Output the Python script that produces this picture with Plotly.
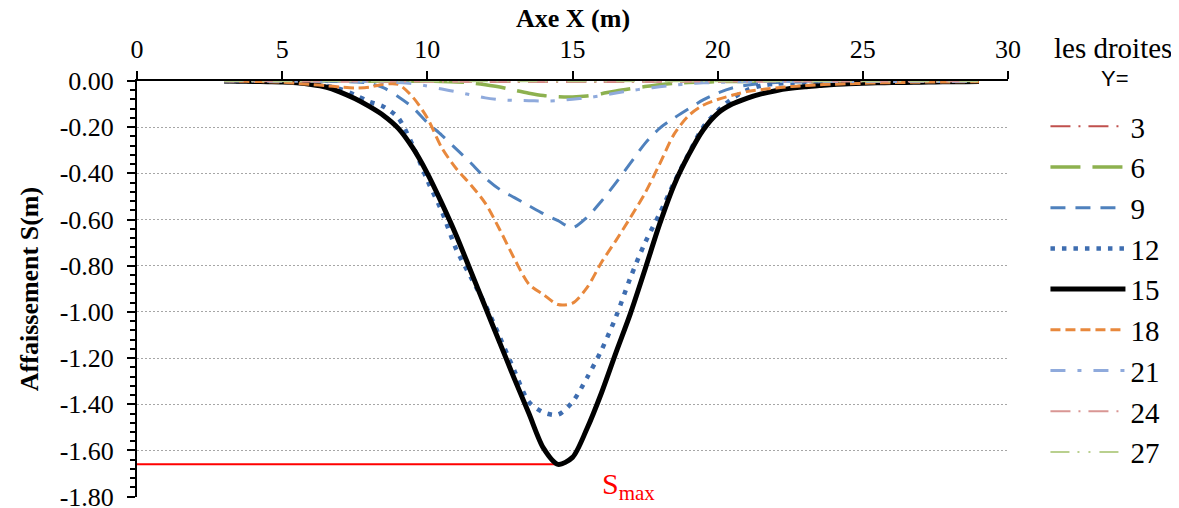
import plotly.graph_objects as go

# ---------------- data ----------------
x_m = [3.0, 3.5, 4.0, 4.5, 5.0,
       5.5, 6.0, 6.5, 7.0, 7.5,
       8.0, 8.5, 9.0, 9.5, 10.0,
       10.5, 11.0, 11.5, 12.0, 12.5,
       13.0, 13.5, 14.0, 14.5, 15.0,
       15.5, 16.0, 16.5, 17.0, 17.5,
       18.0, 18.5, 19.0, 19.5, 20.0,
       20.5, 21.0, 21.5, 22.0, 22.5,
       23.0, 23.5, 24.0, 24.5, 25.0,
       25.5, 26.0, 26.5, 27.0, 27.5,
       28.0, 28.5, 29.0]

s_y3 = [0.000, -0.001, -0.001, -0.001, -0.002,
        -0.002, -0.002, -0.002, -0.002, -0.002,
        -0.002, -0.003, -0.003, -0.003, -0.003,
        -0.003, -0.003, -0.003, -0.004, -0.004,
        -0.004, -0.004, -0.004, -0.004, -0.004,
        -0.004, -0.004, -0.004, -0.004, -0.003,
        -0.003, -0.003, -0.003, -0.003, -0.003,
        -0.003, -0.003, -0.002, -0.002, -0.002,
        -0.002, -0.002, -0.002, -0.002, -0.002,
        -0.002, -0.002, -0.002, -0.002, -0.002,
        -0.002, -0.002, -0.002]

s_y6 = [0.000, 0.000, 0.000, 0.000, -0.001,
        -0.001, -0.001, -0.001, -0.001, -0.001,
        -0.001, -0.001, -0.001, -0.001, -0.001,
        -0.002, -0.004, -0.008, -0.016, -0.026,
        -0.040, -0.053, -0.063, -0.068, -0.069,
        -0.065, -0.055, -0.043, -0.033, -0.024,
        -0.016, -0.010, -0.007, -0.005, -0.003,
        -0.002, -0.002, -0.001, -0.001, -0.001,
        -0.001, -0.001, -0.001, -0.001, -0.001,
        -0.001, -0.001, -0.001, -0.001, -0.001,
        -0.001, -0.001, -0.001]

s_y9 = [0.000, 0.000, -0.001, -0.001, -0.001,
        -0.001, -0.001, -0.002, -0.002, -0.004,
        -0.010, -0.030, -0.068, -0.115, -0.180,
        -0.235, -0.295, -0.355, -0.420, -0.470,
        -0.505, -0.540, -0.575, -0.605, -0.635,
        -0.590, -0.520, -0.440, -0.355, -0.270,
        -0.205, -0.160, -0.120, -0.082, -0.052,
        -0.030, -0.018, -0.010, -0.006, -0.005,
        -0.004, -0.004, -0.003, -0.003, -0.003,
        -0.003, -0.002, -0.002, -0.002, -0.002,
        -0.002, -0.002, -0.002]

s_y12 = [0.000, -0.001, -0.001, -0.002, -0.003,
         -0.005, -0.010, -0.020, -0.035, -0.060,
         -0.090, -0.112, -0.160, -0.280, -0.430,
         -0.565, -0.730, -0.850, -0.970, -1.110,
         -1.255, -1.390, -1.435, -1.445, -1.390,
         -1.285, -1.165, -1.020, -0.850, -0.700,
         -0.575, -0.440, -0.315, -0.200, -0.130,
         -0.076, -0.040, -0.020, -0.012, -0.008,
         -0.006, -0.005, -0.004, -0.004, -0.003,
         -0.003, -0.003, -0.002, -0.002, -0.002,
         -0.002, -0.002, -0.002]

s_y15 = [0.000, -0.001, -0.002, -0.003, -0.004,
         -0.008, -0.015, -0.026, -0.048, -0.076,
         -0.110, -0.150, -0.205, -0.290, -0.400,
         -0.530, -0.670, -0.825, -0.980, -1.135,
         -1.290, -1.440, -1.590, -1.660, -1.630,
         -1.505, -1.350, -1.175, -1.005, -0.815,
         -0.620, -0.450, -0.320, -0.212, -0.140,
         -0.100, -0.075, -0.056, -0.042, -0.032,
         -0.025, -0.020, -0.015, -0.012, -0.010,
         -0.008, -0.007, -0.006, -0.005, -0.004,
         -0.003, -0.003, -0.002]

s_y18 = [0.000, -0.001, -0.002, -0.003, -0.005,
         -0.010, -0.015, -0.020, -0.026, -0.030,
         -0.027, -0.014, -0.015, -0.070, -0.160,
         -0.290, -0.380, -0.450, -0.530, -0.645,
         -0.770, -0.880, -0.925, -0.968, -0.962,
         -0.895, -0.785, -0.690, -0.590, -0.485,
         -0.360, -0.230, -0.150, -0.105, -0.080,
         -0.062, -0.046, -0.037, -0.030, -0.024,
         -0.020, -0.016, -0.014, -0.012, -0.010,
         -0.008, -0.007, -0.006, -0.005, -0.004,
         -0.004, -0.003, -0.003]

s_y21 = [0.000, 0.000, 0.000, -0.001, -0.001,
         -0.001, -0.001, -0.001, -0.001, -0.001,
         -0.002, -0.004, -0.007, -0.012, -0.022,
         -0.035, -0.047, -0.060, -0.073, -0.081,
         -0.084, -0.085, -0.087, -0.085, -0.079,
         -0.073, -0.063, -0.052, -0.042, -0.033,
         -0.025, -0.018, -0.012, -0.008, -0.006,
         -0.004, -0.003, -0.002, -0.002, -0.002,
         -0.002, -0.002, -0.002, -0.002, -0.002,
         -0.002, -0.002, -0.002, -0.002, -0.002,
         -0.002, -0.002, -0.002]

s_y24 = [0.000, -0.001, -0.001, -0.001, -0.001,
         -0.002, -0.002, -0.002, -0.002, -0.002,
         -0.002, -0.002, -0.002, -0.002, -0.003,
         -0.003, -0.003, -0.003, -0.003, -0.003,
         -0.003, -0.003, -0.003, -0.003, -0.003,
         -0.003, -0.003, -0.003, -0.003, -0.003,
         -0.003, -0.003, -0.003, -0.002, -0.002,
         -0.002, -0.002, -0.002, -0.002, -0.002,
         -0.002, -0.002, -0.002, -0.002, -0.002,
         -0.002, -0.002, -0.002, -0.002, -0.002,
         -0.002, -0.002, -0.002]

s_y27 = [0.000, 0.000, -0.001, -0.001, -0.001,
         -0.001, -0.001, -0.001, -0.001, -0.001,
         -0.001, -0.001, -0.001, -0.001, -0.001,
         -0.001, -0.001, -0.001, -0.001, -0.001,
         -0.001, -0.001, -0.001, -0.001, -0.001,
         -0.001, -0.001, -0.001, -0.001, -0.001,
         -0.001, -0.001, -0.001, -0.001, -0.001,
         -0.001, -0.001, -0.001, -0.001, -0.001,
         -0.001, -0.001, -0.001, -0.001, -0.001,
         -0.001, -0.001, -0.001, -0.001, -0.001,
         -0.001, -0.001, -0.001]

series_names = ["3", "6", "9", "12", "15", "18", "21", "24", "27"]
series_values = [s_y3, s_y6, s_y9, s_y12, s_y15, s_y18, s_y21, s_y24, s_y27]

smax_x = [0.0, 14.7]
smax_y = [-1.66, -1.66]
smax_label_x = 15.95
smax_label_y = -1.755

x_tick_vals = [0, 5, 10, 15, 20, 25, 30]
x_tick_text = ["0", "5", "10", "15", "20", "25", "30"]
y_tick_vals = [0.0, -0.2, -0.4, -0.6, -0.8, -1.0, -1.2, -1.4, -1.6, -1.8]
y_tick_text = ["0.00", "-0.20", "-0.40", "-0.60", "-0.80", "-1.00",
               "-1.20", "-1.40", "-1.60", "-1.80"]

# ---------------- styles ----------------
styles = [
    dict(color="#C0504D", width=2.0, dash="20px,8px,2px,8px"),
    dict(color="#8DB14F", width=3.5, dash="30px,12px"),
    dict(color="#4F81BD", width=3.0, dash="15px,10px"),
    dict(color="#3E6DB0", width=4.5, dash="4.5px,7px"),
    dict(color="#000000", width=5.0, dash="solid"),
    dict(color="#E8883C", width=3.0, dash="10px,5px"),
    dict(color="#8FAADC", width=3.0, dash="15px,12px,4px,12px"),
    dict(color="#D99694", width=2.0, dash="20px,8px,2px,8px"),
    dict(color="#B9D08E", width=2.0, dash="19px,8px,2px,9px,2px,9px"),
]

FONT = "Liberation Serif"

fig = go.Figure()

fig.add_trace(go.Scatter(x=smax_x, y=smax_y, mode="lines",
                         line=dict(color="#FF0000", width=2),
                         showlegend=False, hoverinfo="skip"))

for name, vals, st in zip(series_names, series_values, styles):
    fig.add_trace(go.Scatter(x=x_m, y=vals, mode="lines", name=name,
                             line=dict(color=st["color"], width=st["width"],
                                       dash=st["dash"], shape="spline",
                                       smoothing=0.8)))

fig.add_annotation(x=smax_label_x, y=smax_label_y, xref="x", yref="y",
                   text="S<sub>max</sub>", showarrow=False,
                   xanchor="left", yanchor="middle",
                   font=dict(family=FONT, size=30, color="#FF0000"))

# x-axis title (placed above the top tick labels)
fig.add_annotation(x=0.5, y=1.1514, xref="paper", yref="paper",
                   text="<b>Axe X (m)</b>", showarrow=False,
                   xanchor="center", yanchor="middle",
                   font=dict(family=FONT, size=26, color="black"))

# legend heading
fig.add_annotation(x=1.1206, y=1.0793, xref="paper", yref="paper",
                   text="les droites", showarrow=False,
                   xanchor="center", yanchor="middle",
                   font=dict(family=FONT, size=29, color="black"))
fig.add_annotation(x=1.1229, y=1.0072, xref="paper", yref="paper",
                   text="Y=", showarrow=False,
                   xanchor="center", yanchor="middle",
                   font=dict(family="Liberation Sans", size=22, color="black"))

# The page body adds an 8px offset, so the figure is 8px smaller in each
# direction and the left/top margins are reduced accordingly.
fig.update_layout(
    template="none",
    width=1171, height=500,
    margin=dict(l=129, r=171, t=73, b=11, autoexpand=False),
    paper_bgcolor="white", plot_bgcolor="white",
    font=dict(family=FONT, color="black"),
    showlegend=True,
    legend=dict(x=1.043, y=0.952, xanchor="left", yanchor="top",
                font=dict(family=FONT, size=29, color="black"),
                itemwidth=75, bgcolor="rgba(0,0,0,0)", borderwidth=0,
                tracegroupgap=0),
    xaxis=dict(
        side="top", range=[0, 30], tickmode="array",
        tickvals=x_tick_vals, ticktext=x_tick_text,
        ticks="outside", ticklen=8, tickwidth=2, tickcolor="black",
        showline=True, linecolor="black", linewidth=2,
        showgrid=False, zeroline=False, automargin=False,
        ticklabelstandoff=3, ticklabeloverflow="allow",
        tickfont=dict(family=FONT, size=26, color="black"),
    ),
    yaxis=dict(
        range=[-1.8015, 0], tickmode="array",
        tickvals=y_tick_vals, ticktext=y_tick_text,
        ticks="outside", ticklen=8, tickwidth=2, tickcolor="black",
        showline=True, linecolor="black", linewidth=2,
        showgrid=True, gridcolor="#A6A6A6", gridwidth=1, griddash="2px,2px",
        zeroline=False, automargin=False,
        ticklabelstandoff=8, ticklabeloverflow="allow",
        minor=dict(ticks="outside", ticklen=5, tickwidth=1.5, tickcolor="black",
                   dtick=0.04, tick0=0, showgrid=False),
        tickfont=dict(family=FONT, size=26, color="black"),
        title=dict(text="Affaissement S(m)", standoff=14,
                   font=dict(family=FONT, size=26, color="black", weight="bold")),
    ),
)

fig.write_html("out.html")
